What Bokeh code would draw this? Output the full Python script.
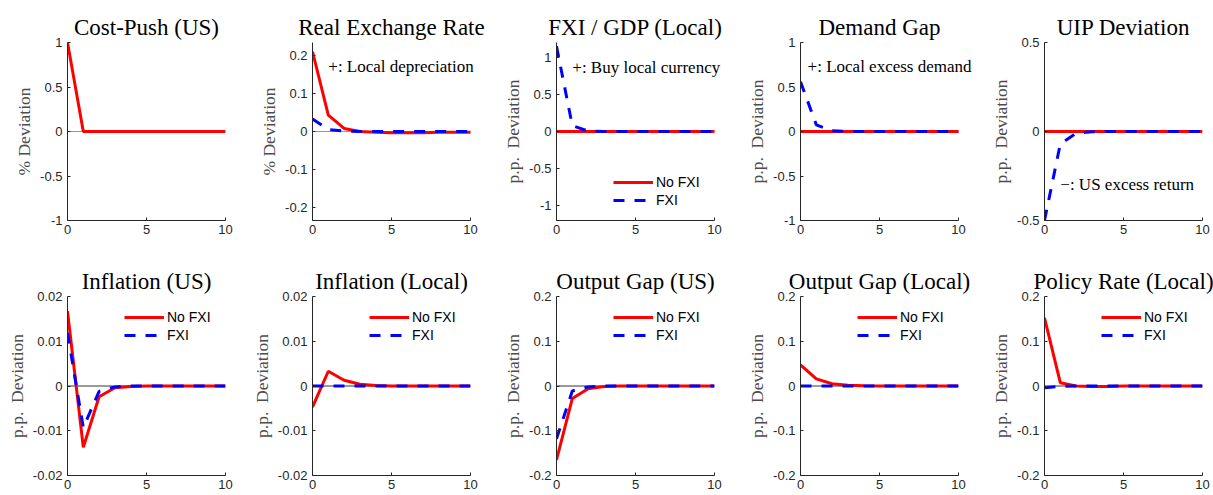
from bokeh.plotting import figure
from bokeh.layouts import column, row
from bokeh.models import Range1d, FixedTicker, Label, Legend, LegendItem
from bokeh.embed import file_html
from bokeh.resources import INLINE

# ---------------- data ----------------
periods = list(range(11))

titles = ["Cost-Push (US)", "Real Exchange Rate", "FXI / GDP (Local)", "Demand Gap", "UIP Deviation",
          "Inflation (US)", "Inflation (Local)", "Output Gap (US)", "Output Gap (Local)", "Policy Rate (Local)"]
ylabels = ["% Deviation", "% Deviation"] + ["p.p.\u2002Deviation"] * 8
series_names = ["No FXI", "FXI"]

cost_push_nofxi = [1.0, 0, 0, 0, 0, 0, 0, 0, 0, 0, 0]
rer_nofxi = [0.21, 0.043, 0.008, 0.0, -0.002, -0.003, -0.003, -0.003, -0.002, -0.002, -0.002]
rer_fxi = [0.033, 0.005, 0.001, 0.0, 0, 0, 0, 0, 0, 0, 0]
fxigdp_nofxi = [0, 0, 0, 0, 0, 0, 0, 0, 0, 0, 0]
fxigdp_fxi = [1.15, 0.08, 0.005, 0, 0, 0, 0, 0, 0, 0, 0]
demand_nofxi = [0, 0, 0, 0, 0, 0, 0, 0, 0, 0, 0]
demand_fxi = [0.56, 0.075, 0.008, 0.001, 0, 0, 0, 0, 0, 0, 0]
uip_nofxi = [0, 0, 0, 0, 0, 0, 0, 0, 0, 0, 0]
uip_fxi = [-0.5, -0.07, -0.01, -0.001, 0, 0, 0, 0, 0, 0, 0]
infl_us_nofxi = [0.0167, -0.0137, -0.0024, -0.0004, -0.0001, 0, 0, 0, 0, 0, 0]
infl_us_fxi = [0.0119, -0.0093, -0.0012, -0.0002, 0, 0, 0, 0, 0, 0, 0]
infl_loc_nofxi = [-0.0047, 0.0033, 0.0013, 0.0004, 0.0001, 0, 0, 0, 0, 0, 0]
infl_loc_fxi = [0, 0, 0, 0, 0, 0, 0, 0, 0, 0, 0]
ygap_us_nofxi = [-0.165, -0.028, -0.006, -0.001, 0, 0, 0, 0, 0, 0, 0]
ygap_us_fxi = [-0.118, -0.011, -0.002, 0, 0, 0, 0, 0, 0, 0, 0]
ygap_loc_nofxi = [0.047, 0.016, 0.005, 0.0015, 0.0004, 0, 0, 0, 0, 0, 0]
ygap_loc_fxi = [0, 0, 0, 0, 0, 0, 0, 0, 0, 0, 0]
rate_nofxi = [0.152, 0.0074, 0.0, -0.001, -0.001, 0, 0, 0, 0, 0, 0]
rate_fxi = [-0.0037, -0.001, 0, 0, 0, 0, 0, 0, 0, 0, 0]

panel_series = [
    (cost_push_nofxi, None),
    (rer_nofxi, rer_fxi),
    (fxigdp_nofxi, fxigdp_fxi),
    (demand_nofxi, demand_fxi),
    (uip_nofxi, uip_fxi),
    (infl_us_nofxi, infl_us_fxi),
    (infl_loc_nofxi, infl_loc_fxi),
    (ygap_us_nofxi, ygap_us_fxi),
    (ygap_loc_nofxi, ygap_loc_fxi),
    (rate_nofxi, rate_fxi),
]

y_limits = [(-1, 1), (-0.234, 0.234), (-1.2, 1.2), (-1, 1), (-0.5, 0.5),
            (-0.02, 0.02), (-0.02, 0.02), (-0.2, 0.2), (-0.2, 0.2), (-0.2, 0.2)]
y_ticks = [[-1, -0.5, 0, 0.5, 1], [-0.2, -0.1, 0, 0.1, 0.2], [-1, -0.5, 0, 0.5, 1],
           [-1, -0.5, 0, 0.5, 1], [-0.5, 0, 0.5],
           [-0.02, -0.01, 0, 0.01, 0.02], [-0.02, -0.01, 0, 0.01, 0.02],
           [-0.2, -0.1, 0, 0.1, 0.2], [-0.2, -0.1, 0, 0.1, 0.2], [-0.2, -0.1, 0, 0.1, 0.2]]
y_tick_labels = [["-1", "-0.5", "0", "0.5", "1"], ["-0.2", "-0.1", "0", "0.1", "0.2"],
                 ["-1", "-0.5", "0", "0.5", "1"], ["-1", "-0.5", "0", "0.5", "1"], ["-0.5", "0", "0.5"],
                 ["-0.02", "-0.01", "0", "0.01", "0.02"], ["-0.02", "-0.01", "0", "0.01", "0.02"],
                 ["-0.2", "-0.1", "0", "0.1", "0.2"], ["-0.2", "-0.1", "0", "0.1", "0.2"],
                 ["-0.2", "-0.1", "0", "0.1", "0.2"]]
x_ticks = [0, 5, 10]
x_tick_labels = ["0", "5", "10"]

# annotations: (panel index, text, x, y)
notes = [(1, "+: Local depreciation", 1.0, 0.17),
         (2, "+: Buy local currency", 1.0, 0.86),
         (3, "+: Local excess demand", 0.45, 0.73),
         (4, "\u2212: US excess return", 1.0, -0.30)]

legend_panels = {2: "bottom", 5: "top", 6: "top", 7: "top", 8: "top", 9: "top"}

# ---------------- layout ----------------
RED = "#ff0000"
BLUE = "#0000ff"
SERIF = "Liberation Serif"
SANS = "Liberation Sans"
TITLE_PX = 23
FRAME_W = 158
FIG_W = [244, 244, 244, 244, 237]
BORDER_L = [67, 68, 68, 68, 68]
EXTRA_R = [0, 10, 12, 18, 0]          # room right of the frame for overhanging notes
ROW_H = [254, 240]
BORDER_T = [42, 42]
FRAME_HS = [178, 179]
ZERO_COLOR = ["#7f7f7f", "#000000"]

# Times/Liberation Serif advance widths (em) for centring titles in widened frames
SERIF_W = {"R": .667, "e": .444, "a": .444, "l": .278, " ": .25, "E": .611, "x": .5, "c": .444,
           "h": .5, "n": .5, "g": .5, "t": .278, "F": .556, "X": .722, "I": .333, "/": .278,
           "G": .722, "D": .722, "P": .556, "(": .333, "L": .611, "o": .5, ")": .333, "m": .778,
           "p": .5, "d": .5}


def text_width(s, px):
    return sum(SERIF_W.get(ch, 0.5) for ch in s) * px


def make_panel(i):
    r = 0 if i < 5 else 1
    c = i % 5
    w = FIG_W[c]
    h = ROW_H[r]
    fh = FRAME_HS[r]
    ext = EXTRA_R[c] if r == 0 else 0
    x_end = 10 + 10.0 * ext / FRAME_W
    p = figure(width=w, height=h, output_backend="svg", toolbar_location=None,
               x_range=Range1d(0, x_end), y_range=Range1d(*y_limits[i]),
               min_border_left=BORDER_L[c], min_border_right=w - BORDER_L[c] - FRAME_W - ext,
               min_border_top=BORDER_T[r], min_border_bottom=h - BORDER_T[r] - fh)
    p.outline_line_color = None
    p.grid.visible = False

    p.title.text = titles[i]
    p.title.text_font = SERIF
    p.title.text_font_size = "%dpx" % TITLE_PX
    p.title.text_font_style = "normal"
    p.title.text_color = "#000000"
    if ext > 0:
        p.title.align = "left"
        p.title.offset = (FRAME_W - text_width(titles[i], TITLE_PX)) / 2.0
    else:
        p.title.align = "center"
    p.title.standoff = 6

    for ax in (p.xaxis[0], p.yaxis[0]):
        ax.axis_line_color = "#262626"
        ax.axis_line_width = 1
        ax.major_tick_line_color = "#262626"
        ax.major_tick_in = 3
        ax.major_tick_out = 0
        ax.minor_tick_line_color = None
        ax.major_label_text_font = SANS
        ax.major_label_text_font_size = "13px"
        ax.major_label_text_color = "#262626"
    p.xaxis.bounds = (periods[0], periods[-1])
    p.xaxis.ticker = FixedTicker(ticks=x_ticks)
    p.xaxis.major_label_overrides = dict(zip(x_ticks, x_tick_labels))
    p.xaxis.major_label_standoff = 4
    p.yaxis.ticker = FixedTicker(ticks=y_ticks[i])
    p.yaxis.major_label_overrides = dict(zip(y_ticks[i], y_tick_labels[i]))
    p.yaxis.major_label_standoff = 5
    p.yaxis.axis_label = ylabels[i]
    p.yaxis.axis_label_text_font = SERIF
    p.yaxis.axis_label_text_font_size = "17.5px"
    p.yaxis.axis_label_text_font_style = "normal"
    p.yaxis.axis_label_text_color = "#4d4d4d"
    p.yaxis.axis_label_standoff = 3

    # zero reference line across the horizon
    p.line([periods[0], periods[-1]], [0, 0], line_color=ZERO_COLOR[r], line_width=0.8)

    nofxi, fxi = panel_series[i]
    r1 = p.line(periods, nofxi, line_color=RED, line_width=3)
    r2 = None
    if fxi is not None:
        r2 = p.line(periods, fxi, line_color=BLUE, line_width=3, line_dash="11 10")

    for (k, txt, tx, ty) in notes:
        if k == i:
            p.add_layout(Label(x=tx, y=ty, text=txt, text_font=SERIF, text_font_size="17px",
                               text_baseline="middle", text_align="left", text_color="#000000"))

    if i in legend_panels and r2 is not None:
        ly = 11 if legend_panels[i] == "bottom" else fh - 12 - 36
        lg = Legend(items=[LegendItem(label=series_names[0], renderers=[r1]),
                           LegendItem(label=series_names[1], renderers=[r2])],
                    location=(57, ly), padding=0, margin=0, spacing=0,
                    glyph_width=40, glyph_height=18, label_height=18, label_standoff=3,
                    label_text_font=SANS, label_text_font_size="14px", label_text_color="#000000",
                    border_line_color=None, background_fill_alpha=0)
        p.add_layout(lg)
    return p


panels = [make_panel(i) for i in range(10)]
layout = column(row(*panels[:5]), row(*panels[5:]))

open("out.html", "w").write(file_html(layout, INLINE))
